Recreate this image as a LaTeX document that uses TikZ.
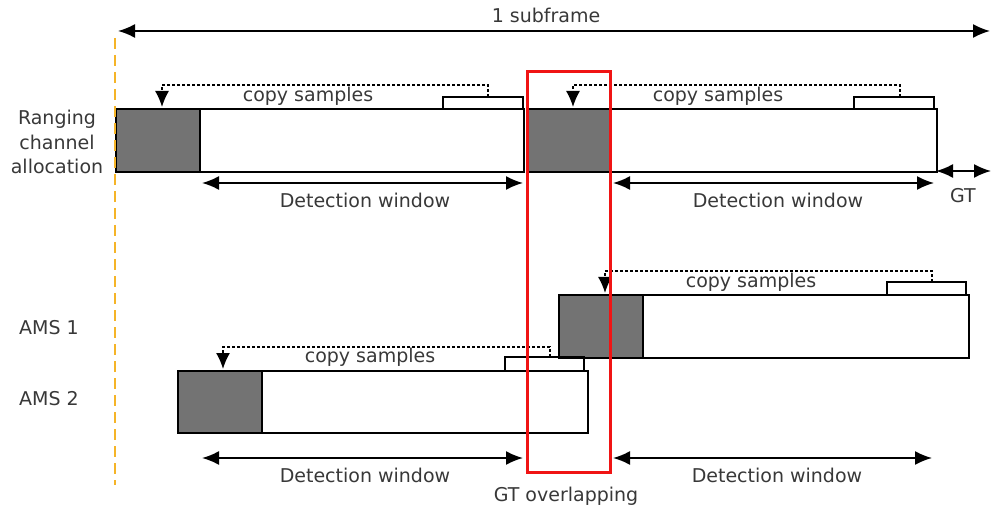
\documentclass[tikz,border=0pt]{standalone}
\usepackage{fontspec}
\setmainfont{DejaVu Sans}
\usetikzlibrary{arrows.meta}
\definecolor{gtred}{RGB}{240,20,20}
\definecolor{dashorange}{RGB}{245,180,40}
\begin{document}
\begin{tikzpicture}[x=1pt,y=-1pt,
  font=\fontsize{19}{24.5}\selectfont, text=black!78,
  hatchbox/.style={draw=black, line width=1.8pt, fill=black!55, inner sep=0pt, anchor=north west, minimum height=63pt},
  plainbox/.style={draw=black, line width=1.8pt, fill=white, inner sep=0pt, anchor=north west, minimum height=63pt},
  dimarrow/.style={line width=1.8pt, {Latex[length=17pt,width=14pt]}-{Latex[length=17pt,width=14pt]}},
  copyline/.style={dash pattern=on 3pt off 2pt, line width=1.5pt, -{Latex[length=16pt,width=14pt]}},
  bracketline/.style={line width=1.8pt},
  lbl/.style={inner sep=0pt},
]
\useasboundingbox (0,0) rectangle (992,510);

% ---------- top: 1 subframe ----------
\coordinate (sfL) at (118,31);
\coordinate (sfR) at (990,31);
\draw[dimarrow] (sfL) -- (sfR);
\node[lbl] (sftext) at (546,15) {1 subframe};

% ---------- left labels ----------
\node[lbl, align=center] (lrang) at (57,142) {Ranging\\channel\\allocation};
\node[lbl] (lams1) at (49,328) {AMS 1};
\node[lbl] (lams2) at (49,399) {AMS 2};

% ---------- ranging channel row ----------
\node[hatchbox, minimum width=84pt] (r1s1) at (115,108) {};
\node[plainbox, minimum width=324pt] (r1w1) at (199,108) {};
\node[hatchbox, minimum width=82pt] (r1s2) at (527,108) {};
\node[plainbox, minimum width=327pt] (r1w2) at (609,108) {};

% copy samples 1
\coordinate (b1l) at (443,108);
\coordinate (b1r) at (523,108);
\coordinate (b1t) at (488,97);
\coordinate (a1t) at (162,107);
\draw[bracketline] (b1l) -- (443,97) -- (523,97) -- (b1r);
\draw[copyline] (b1t) -- (488,85) -- (162,85) -- (a1t);
\node[lbl] (cs1) at (308,96) {copy samples};

% copy samples 2
\coordinate (b2l) at (854,108);
\coordinate (b2r) at (934,108);
\coordinate (b2t) at (900,97);
\coordinate (a2t) at (573,107);
\draw[bracketline] (b2l) -- (854,97) -- (934,97) -- (b2r);
\draw[copyline] (b2t) -- (900,85) -- (573,85) -- (a2t);
\node[lbl] (cs2) at (718,96) {copy samples};

% detection windows row 1
\coordinate (dw1l) at (202,183);
\coordinate (dw1r) at (523,183);
\draw[dimarrow] (dw1l) -- (dw1r);
\node[lbl] (dw1) at (365,200) {Detection window};
\coordinate (dw2l) at (613,183);
\coordinate (dw2r) at (934,183);
\draw[dimarrow] (dw2l) -- (dw2r);
\node[lbl] (dw2) at (778,200) {Detection window};

% GT
\coordinate (gtl) at (936,171);
\coordinate (gtr) at (991,171);
\draw[dimarrow] (gtl) -- (gtr);
\node[lbl] (gt) at (963,196) {GT};

% ---------- AMS 1 ----------
\node[hatchbox, minimum width=84pt] (m1s) at (558,294) {};
\node[plainbox, minimum width=326pt] (m1w) at (642,294) {};
\coordinate (b3l) at (887,294);
\coordinate (b3r) at (966,294);
\coordinate (b3t) at (932,282);
\coordinate (a3t) at (605,293);
\draw[bracketline] (b3l) -- (887,282) -- (966,282) -- (b3r);
\draw[copyline] (b3t) -- (932,271) -- (605,271) -- (a3t);
\node[lbl] (cs3) at (751,282) {copy samples};

% ---------- AMS 2 ----------
\node[hatchbox, minimum width=84pt, minimum height=62pt] (m2s) at (177,370) {};
\node[plainbox, minimum width=326pt, minimum height=62pt] (m2w) at (261,370) {};
\coordinate (b4l) at (505,370);
\coordinate (b4r) at (584,370);
\coordinate (b4t) at (550,357);
\coordinate (a4t) at (223,369);
\draw[bracketline] (b4l) -- (505,357) -- (584,357) -- (b4r);
\draw[copyline] (b4t) -- (550,347) -- (223,347) -- (a4t);
\node[lbl] (cs4) at (370,357) {copy samples};

% detection windows bottom
\coordinate (dw3l) at (202,458);
\coordinate (dw3r) at (523,458);
\draw[dimarrow] (dw3l) -- (dw3r);
\node[lbl] (dw3) at (365,475) {Detection window};
\coordinate (dw4l) at (613,458);
\coordinate (dw4r) at (932,458);
\draw[dimarrow] (dw4l) -- (dw4r);
\node[lbl] (dw4) at (777,475) {Detection window};

% ---------- GT overlapping ----------
\node[draw=gtred, line width=3pt, inner sep=0pt, anchor=north west,
      minimum width=83pt, minimum height=401pt] (gtov) at (526,70) {};
\node[lbl] (gtovtext) at (566,496) {GT overlapping};

% ---------- subframe start ----------
\coordinate (ds) at (115,38);
\coordinate (de) at (115,485);
\draw[dashorange, line width=1.8pt, dash pattern=on 11pt off 6pt] (ds) -- (de);
\end{tikzpicture}
\end{document}
